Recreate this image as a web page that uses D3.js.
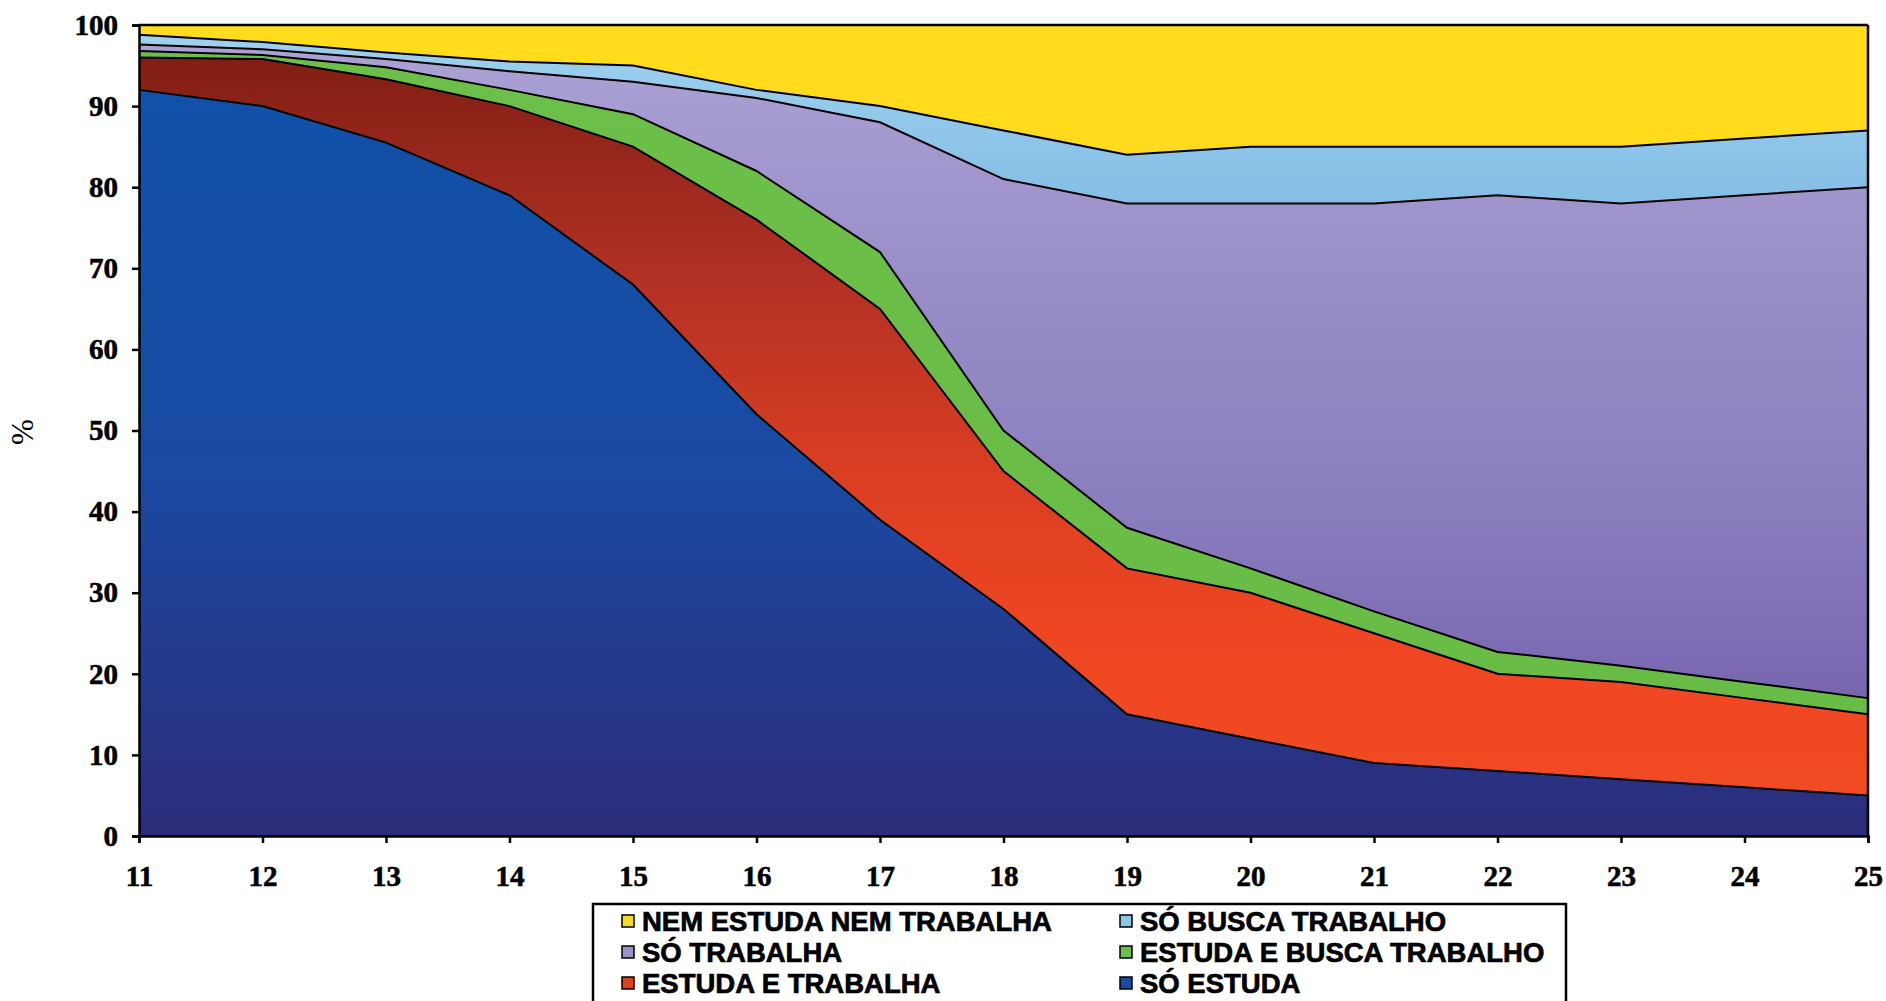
<!DOCTYPE html>
<html>
<head>
<meta charset="utf-8">
<script src="https://cdn.jsdelivr.net/npm/d3@7/dist/d3.min.js"></script>
<style>
  html, body { margin: 0; padding: 0; background: #ffffff; }
  svg { display: block; }
</style>
</head>
<body>
<svg id="chart" width="1886" height="1001"></svg>
<script>
// ---- DATA ----
const ages = [11, 12, 13, 14, 15, 16, 17, 18, 19, 20, 21, 22, 23, 24, 25];
const soEstuda          = [92, 90, 85.5, 79, 68, 52, 39, 28, 15, 12, 9, 8, 7, 6, 5];
const estudaTrabalha    = [4, 5.8, 7.8, 11, 17, 24, 26, 17, 18, 18, 16, 12, 12, 11, 10];
const estudaBusca       = [0.8, 0.5, 1.5, 2, 4, 6, 7, 5, 5, 3, 2.7, 2.7, 2, 2, 2];
const soTrabalha        = [0.8, 0.7, 1, 2.3, 4, 9, 16, 31, 40, 45, 50.3, 56.3, 57, 60, 63];
const soBusca           = [1.2, 0.9, 0.8, 1.2, 2, 1, 2, 6, 6, 7, 7, 6, 7, 7, 7];
const nemNem            = [1.2, 2.1, 3.4, 4.5, 5, 8, 10, 13, 16, 15, 15, 15, 15, 14, 13];
const seriesKeys = ["SÓ ESTUDA", "ESTUDA E TRABALHA", "ESTUDA E BUSCA TRABALHO", "SÓ TRABALHA", "SÓ BUSCA TRABALHO", "NEM ESTUDA NEM TRABALHA"];
const seriesValues = [soEstuda, estudaTrabalha, estudaBusca, soTrabalha, soBusca, nemNem];
const yTicks = [0, 10, 20, 30, 40, 50, 60, 70, 80, 90, 100];
const legendOrder = ["NEM ESTUDA NEM TRABALHA", "SÓ BUSCA TRABALHO", "SÓ TRABALHA", "ESTUDA E BUSCA TRABALHO", "ESTUDA E TRABALHA", "SÓ ESTUDA"];

// ---- BUILD ----
(function () {
const rows = ages.map((a, i) => {
  const r = { age: a };
  seriesKeys.forEach((k, j) => r[k] = seriesValues[j][i]);
  return r;
});

const svg = d3.select("#chart");
const pL = 139, pR = 1868, pT = 25, pB = 836;

const x = d3.scaleLinear().domain([11, 25]).range([pL, pR]);
const y = d3.scaleLinear().domain([0, 100]).range([pB, pT]);

const defs = svg.append("defs");
function grad(id, stops) {
  const g = defs.append("linearGradient").attr("id", id)
    .attr("gradientUnits", "userSpaceOnUse")
    .attr("x1", 0).attr("x2", 0).attr("y1", pT).attr("y2", pB);
  stops.forEach(s => g.append("stop").attr("offset", s[0]).attr("stop-color", s[1]));
}
grad("gBlue", [[0, "#0e52aa"], [0.55, "#1a4aa2"], [1, "#2c2c7a"]]);
grad("gRed", [[0, "#7a1c12"], [0.3, "#b03024"], [0.55, "#da3e22"], [0.75, "#ee4622"], [1, "#f24c22"]]);
grad("gGreen", [[0, "#6cc04a"], [1, "#68bb44"]]);
grad("gPurple", [[0, "#aca3d6"], [0.3, "#9a8fc8"], [0.6, "#8a7dbe"], [1, "#6a55a4"]]);
grad("gLBlue", [[0, "#a0d2ef"], [0.3, "#7ab7e2"], [1, "#74b0de"]]);
grad("gYellow", [[0, "#ffdc1c"], [1, "#ffd81a"]]);

const fills = {
  "SÓ ESTUDA": "url(#gBlue)",
  "ESTUDA E TRABALHA": "url(#gRed)",
  "ESTUDA E BUSCA TRABALHO": "url(#gGreen)",
  "SÓ TRABALHA": "url(#gPurple)",
  "SÓ BUSCA TRABALHO": "url(#gLBlue)",
  "NEM ESTUDA NEM TRABALHA": "url(#gYellow)"
};
const swatch = {
  "SÓ ESTUDA": "#1a4aa6",
  "ESTUDA E TRABALHA": "#e0401e",
  "ESTUDA E BUSCA TRABALHO": "#6cc04a",
  "SÓ TRABALHA": "#9a90cc",
  "SÓ BUSCA TRABALHO": "#8cc6ea",
  "NEM ESTUDA NEM TRABALHA": "#f8da20"
};

const stack = d3.stack().keys(seriesKeys);
const layers = stack(rows);

const area = d3.area()
  .x(d => x(d.data.age))
  .y0(d => y(d[0]))
  .y1(d => y(d[1]));
const topLine = d3.line()
  .x(d => x(d.data.age))
  .y(d => y(d[1]));

svg.append("g").selectAll("path.area")
  .data(layers).join("path")
  .attr("class", "area")
  .attr("d", area)
  .attr("fill", d => fills[d.key]);

svg.append("g").selectAll("path.edge")
  .data(layers.slice(0, layers.length - 1)).join("path")
  .attr("class", "edge")
  .attr("d", topLine)
  .attr("fill", "none")
  .attr("stroke", "#000")
  .attr("stroke-width", 2);

// plot frame (top and right)
svg.append("line").attr("x1", pL).attr("x2", pR).attr("y1", pT).attr("y2", pT)
  .attr("stroke", "#000").attr("stroke-width", 2.5);
svg.append("line").attr("x1", pR).attr("x2", pR).attr("y1", pT).attr("y2", pB)
  .attr("stroke", "#000").attr("stroke-width", 2.5);

// axes
const serif = "'Liberation Serif', 'Times New Roman', serif";
const yAxis = d3.axisLeft(y).tickValues(yTicks).tickSize(7).tickPadding(14).tickFormat(d3.format("d"));
const gy = svg.append("g").attr("transform", `translate(${pL},0)`).call(yAxis);
gy.select(".domain").attr("stroke", "#000").attr("stroke-width", 2.5);
gy.selectAll(".tick line").attr("stroke", "#000").attr("stroke-width", 2.5);
gy.selectAll(".tick text").attr("font-family", serif).attr("font-weight", "bold")
  .attr("font-size", 29).attr("fill", "#000")
  .attr("stroke", "#000").attr("stroke-width", 0.6);

const xAxis = d3.axisBottom(x).tickValues(ages).tickSize(7).tickPadding(22).tickFormat(d3.format("d"));
const gx = svg.append("g").attr("transform", `translate(0,${pB})`).call(xAxis);
gx.select(".domain").attr("stroke", "#000").attr("stroke-width", 2.5);
gx.selectAll(".tick line").attr("stroke", "#000").attr("stroke-width", 2.5);
gx.selectAll(".tick text").attr("font-family", serif).attr("font-weight", "bold")
  .attr("font-size", 29).attr("fill", "#000")
  .attr("stroke", "#000").attr("stroke-width", 0.6);

// y title
svg.append("text")
  .attr("transform", "translate(33,432) rotate(-90)")
  .attr("text-anchor", "middle")
  .attr("font-family", serif)
  .attr("font-size", 31)
  .attr("fill", "#000")
  .text("%");

// legend
const lg = svg.append("g");
lg.append("rect").attr("x", 593).attr("y", 904).attr("width", 973).attr("height", 120)
  .attr("fill", "#fff").attr("stroke", "#000").attr("stroke-width", 2.5);
const colX = [622, 1120];
const rowY = [921, 952, 983];
legendOrder.forEach((k, i) => {
  const cx = colX[i % 2], cy = rowY[Math.floor(i / 2)];
  lg.append("rect").attr("x", cx).attr("y", cy - 6).attr("width", 12).attr("height", 12)
    .attr("fill", swatch[k]).attr("stroke", "#000").attr("stroke-width", 1.5);
  lg.append("text").attr("x", cx + 20).attr("y", cy + 10)
    .attr("font-family", "'Liberation Sans', Arial, sans-serif")
    .attr("font-weight", "bold").attr("font-size", 27.5).attr("fill", "#000")
    .attr("stroke", "#000").attr("stroke-width", 0.7)
    .text(k);
});
})();
</script>
</body>
</html>
